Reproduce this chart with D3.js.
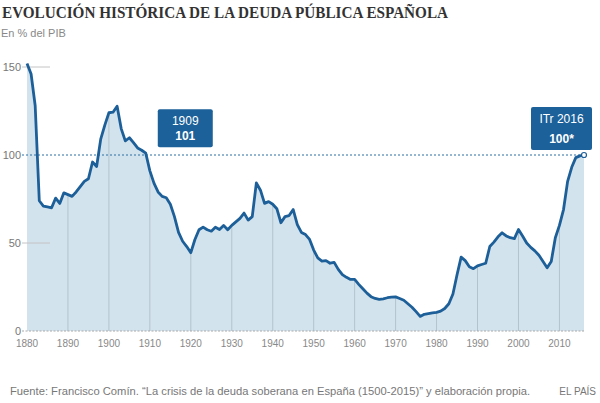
<!DOCTYPE html>
<html>
<head>
<meta charset="utf-8">
<script src="https://cdnjs.cloudflare.com/ajax/libs/d3/7.8.5/d3.min.js"></script>
<style>
  body { margin: 0; background: #fff; }
  svg { display: block; }
</style>
</head>
<body>
<div id="chart"></div>
<script>
// deuda publica, % del PIB
var years = d3.range(1880, 2017);
var debt = [
  152, 146, 128, 74, 71, 70.5, 70, 75.5, 72.5, 78.5,
  77.5, 76.5, 79, 82, 85, 86.5, 96, 93.5, 109, 117,
  124, 124.3, 127.7, 115, 108, 109.8, 107, 104, 102.7, 101,
  91, 84, 79, 76.5, 75.7, 72, 65, 56, 51, 48,
  44.5, 52, 57.5, 59, 57.5, 56.7, 59, 57.7, 60, 57.5,
  60, 62, 64, 67, 63, 65, 84.2, 80, 72.5, 73.5,
  72, 69.5, 61.5, 65, 65.6, 69, 60.5, 56, 54.8, 52,
  46, 41.5, 39.7, 40, 38.5, 39, 35, 32, 30.5, 29.3,
  29.3, 26.5, 24, 21.5, 19.5, 18.5, 18, 18.3, 18.9, 19.2,
  19.4, 18.5, 17.5, 15.5, 13.5, 11, 8.3, 9.5, 9.9, 10.3,
  10.6, 11.3, 12.8, 15.5, 21, 32, 42, 40, 36.5, 35.4,
  37, 37.8, 38.5, 48, 50.5, 53.5, 55.8, 54, 53, 52.5,
  57.7, 54, 50, 47.5, 45.5, 43, 39.5, 35.9, 39.5, 53,
  60, 69, 85, 93, 98.5, 99.5, 100
];
var xTicks = d3.range(1880, 2011, 10);
var yTicks = [0, 50, 100, 150];
var labelYears = [1909, 2016];
var labelValues = [101, 100];
var labelTop = ["1909", "ITr 2016"];
var labelBottom = ["101", "100*"];

var data = years.map((y, i) => ({year: y, value: debt[i]}));
var labels = labelYears.map((yr, i) => ({year: yr, value: labelValues[i], top: labelTop[i], bottom: labelBottom[i]}));

var width = 600, height = 403;
var x = d3.scaleLinear().domain([1880, 2016]).range([27, 584]);
var y = d3.scaleLinear().domain([0, 150]).range([331, 67]);

// box geometry per annotation (offset from its point)
var boxStyle = {
  1909: {dx: 12, dy: -44, w: 55, h: 38},
  2016: {dx: -53, dy: -48, w: 61, h: 43}
};

var svg = d3.select("#chart").append("svg")
    .attr("width", width)
    .attr("height", height)
    .style("font-family", "'Liberation Sans', Arial, sans-serif");

var area = d3.area().x(d => x(d.year)).y0(y(0)).y1(d => y(d.value));
var line = d3.line().x(d => x(d.year)).y(d => y(d.value));

svg.append("clipPath").attr("id", "under")
  .append("path").attr("d", area(data));

svg.append("path")
    .attr("d", area(data))
    .attr("fill", "#d3e3ed");

// vertical grid only inside the filled area
svg.append("g")
    .attr("clip-path", "url(#under)")
  .selectAll("line")
  .data(xTicks.slice(1))
  .join("line")
    .attr("x1", d => x(d)).attr("x2", d => x(d))
    .attr("y1", y(0)).attr("y2", y(150))
    .attr("stroke", "#b3c3ce")
    .attr("stroke-width", 1);

// y ticks
svg.append("g").selectAll("line")
  .data([50, 150])
  .join("line")
    .attr("x1", 22).attr("x2", 50)
    .attr("y1", d => y(d)).attr("y2", d => y(d))
    .attr("stroke", "#c4c4c4");

svg.append("line")
    .attr("x1", 22).attr("x2", x(2016))
    .attr("y1", y(0)).attr("y2", y(0))
    .attr("stroke", "#a9a9a9")
    .attr("stroke-dasharray", "2,1.5");

svg.append("line")
    .attr("x1", 22).attr("x2", x(2016))
    .attr("y1", y(100)).attr("y2", y(100))
    .attr("stroke", "#2b6ea3")
    .attr("stroke-width", 1)
    .attr("stroke-dasharray", "2,2");

svg.append("path")
    .attr("d", line(data))
    .attr("fill", "none")
    .attr("stroke", "#1d5f98")
    .attr("stroke-width", 2.8)
    .attr("stroke-linejoin", "round");

svg.append("circle")
    .attr("cx", x(2016)).attr("cy", y(100))
    .attr("r", 2.5)
    .attr("fill", "#fff")
    .attr("stroke", "#1d5f98")
    .attr("stroke-width", 1.2);

svg.append("g").selectAll("text")
  .data(yTicks)
  .join("text")
    .attr("x", 21)
    .attr("y", d => y(d) + 4)
    .attr("text-anchor", "end")
    .attr("font-size", 11)
    .attr("fill", "#777")
    .text(d => d);

svg.append("g").selectAll("text")
  .data(xTicks)
  .join("text")
    .attr("x", d => x(d))
    .attr("y", 347)
    .attr("text-anchor", "middle")
    .attr("font-size", 10)
    .attr("fill", "#888")
    .text(d => d);

// annotation boxes
var boxes = svg.append("g").selectAll("g")
  .data(labels)
  .join("g")
    .attr("transform", d => `translate(${x(d.year) + boxStyle[d.year].dx},${y(d.value) + boxStyle[d.year].dy})`);

boxes.append("rect")
    .attr("width", d => boxStyle[d.year].w)
    .attr("height", d => boxStyle[d.year].h)
    .attr("rx", 2)
    .attr("fill", "#1c6199");

boxes.append("text")
    .attr("x", d => boxStyle[d.year].w / 2)
    .attr("y", 16)
    .attr("text-anchor", "middle")
    .attr("font-size", 12)
    .attr("fill", "#fff")
    .text(d => d.top);

boxes.append("text")
    .attr("x", d => boxStyle[d.year].w / 2)
    .attr("y", d => boxStyle[d.year].h - 7)
    .attr("text-anchor", "middle")
    .attr("font-size", 12)
    .attr("font-weight", "bold")
    .attr("fill", "#fff")
    .text(d => d.bottom);

// titles
svg.append("text")
    .attr("x", 2).attr("y", 18)
    .attr("font-size", 16)
    .attr("font-weight", "bold")
    .attr("fill", "#333")
    .attr("textLength", 446)
    .attr("lengthAdjust", "spacingAndGlyphs")
    .style("font-family", "'Liberation Serif', 'DejaVu Serif', serif")
    .text("EVOLUCIÓN HISTÓRICA DE LA DEUDA PÚBLICA ESPAÑOLA");

svg.append("text")
    .attr("x", 1).attr("y", 37)
    .attr("font-size", 11)
    .attr("fill", "#888")
    .text("En % del PIB");

svg.append("text")
    .attr("x", 10).attr("y", 395)
    .attr("font-size", 10)
    .attr("fill", "#777")
    .attr("textLength", 520)
    .attr("lengthAdjust", "spacingAndGlyphs")
    .text("Fuente: Francisco Comín. \u201cLa crisis de la deuda soberana en España (1500-2015)\u201d y elaboración propia.");

svg.append("text")
    .attr("x", 596).attr("y", 395)
    .attr("text-anchor", "end")
    .attr("font-size", 10)
    .attr("fill", "#777")
    .text("EL PAÍS");
</script>
</body>
</html>
